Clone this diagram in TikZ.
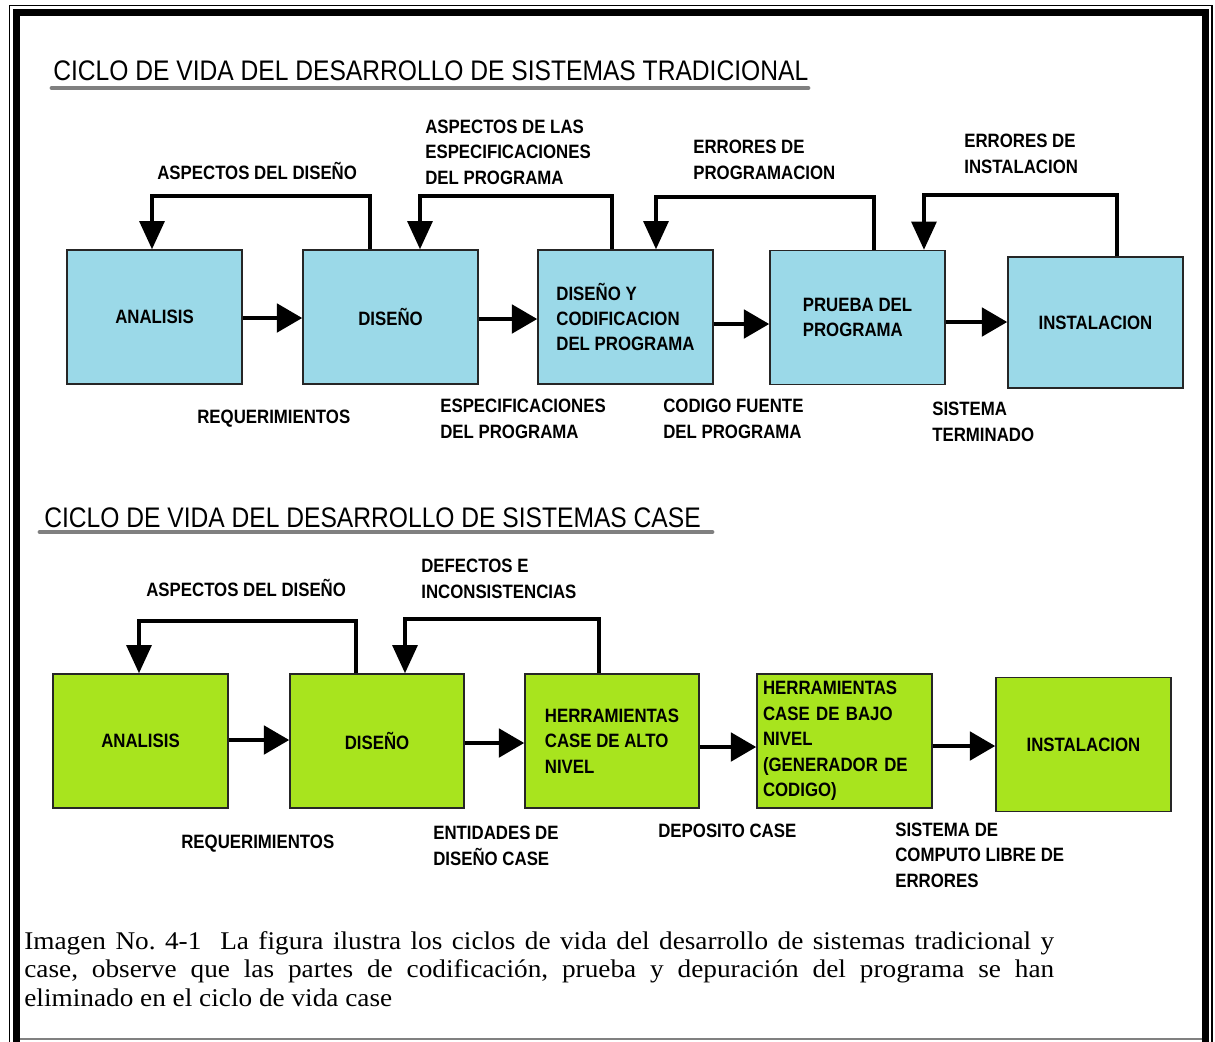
\documentclass[tikz,border=0pt]{standalone}
\usepackage{fontspec}
\usetikzlibrary{arrows.meta}
\newfontfamily\etiq[FakeStretch=0.87]{Liberation Sans}
\newfontfamily\pie[FakeStretch=1.07]{Liberation Serif}
\definecolor{azulcaja}{RGB}{155,217,232}
\definecolor{verdecaja}{RGB}{168,228,30}
\tikzset{
  caja/.style={draw=black!85, line width=0.8pt, minimum width=3.5cm, minimum height=2.68cm,
    inner sep=0pt, align=left, font=\etiq\bfseries\fontsize{11}{14.5}\selectfont},
  azul/.style={caja, fill=azulcaja},
  verde/.style={caja, fill=verdecaja},
  etiqueta/.style={anchor=base west, inner sep=0pt, align=left,
    font=\etiq\bfseries\fontsize{11}{14.5}\selectfont},
  titulo/.style={anchor=base west, inner sep=0pt, font=\etiq\fontsize{16.1}{18}\selectfont},
  flecha/.style={line width=2.8pt, -{Triangle[length=14.5pt,width=16pt]}},
  retro/.style={line width=2.3pt, -{Triangle[length=16pt,width=14pt]}},
  subraya/.style={line width=2.8pt, gray, line cap=round}
}
\begin{document}
\begin{tikzpicture}[x=0.02cm,y=-0.02cm]
    \useasboundingbox (0,0) rectangle (1215,1042);
    \fill[white] (0,0) rectangle (1215,1042);

    % marco
    \draw[line width=0.8pt] (9.5,5.5) rectangle (1212,1060);
    \draw[line width=4pt] (16.5,12.5) rectangle (1205.5,1070);
    \draw[line width=0.8pt, gray] (20,1039) -- (1202,1039);

    % tradicional
    \node[titulo] (tit1) at (53,80) {CICLO DE VIDA DEL DESARROLLO DE SISTEMAS TRADICIONAL};
    \draw[subraya] (52,88) -- (808,88);

    \node[azul] (ana1) at (154.5,317) {ANALISIS};
    \node[azul] (dis1) at (390.5,317) {DISEÑO};
    \node[azul] (cod1) at (625.5,317) {DISEÑO Y\\CODIFICACION\\DEL PROGRAMA};
    \node[azul] (pru1) at (857.5,317.5) {PRUEBA DEL\\PROGRAMA};
    \node[azul, minimum height=2.62cm] (ins1) at (1095.5,322.5) {INSTALACION};

    \draw[flecha] ([yshift=-0.02cm]ana1.east) -- ([yshift=-0.02cm]ana1.east -| dis1.west);
    \draw[flecha] ([yshift=-0.04cm]dis1.east) -- ([yshift=-0.04cm]dis1.east -| cod1.west);
    \draw[flecha] ([yshift=-0.14cm]cod1.east) -- ([yshift=-0.14cm]cod1.east -| pru1.west);
    \draw[flecha] ([yshift=-0.09cm]pru1.east) -- ([yshift=-0.09cm]pru1.east -| ins1.west);

    \draw[retro] ([xshift=-0.41cm]dis1.north) -- ++(0,-53) -| ([xshift=-0.05cm]ana1.north);
    \draw[retro] ([xshift=-0.27cm]cod1.north) -- ++(0,-53) -| ([xshift=0.59cm]dis1.north);
    \draw[retro] ([xshift=0.33cm]pru1.north) -- ++(0,-53) -| ([xshift=0.61cm]cod1.north);
    \draw[retro] ([xshift=0.43cm]ins1.north) -- ++(0,-61) -| ([xshift=1.33cm]pru1.north);

    \node[etiqueta] (asp1) at (157,179) {ASPECTOS DEL DISEÑO};
    \node[etiqueta] (asp2) at (425,184) {ASPECTOS DE LAS\\ESPECIFICACIONES\\DEL PROGRAMA};
    \node[etiqueta] (err1) at (693,179) {ERRORES DE\\PROGRAMACION};
    \node[etiqueta] (err2) at (964,173) {ERRORES DE\\INSTALACION};
    \node[etiqueta] (req1) at (197,423) {REQUERIMIENTOS};
    \node[etiqueta] (esp1) at (440,438) {ESPECIFICACIONES\\DEL PROGRAMA};
    \node[etiqueta] (cdf1) at (663,438) {CODIGO FUENTE\\DEL PROGRAMA};
    \node[etiqueta] (sis1) at (932,441) {SISTEMA\\TERMINADO};

    % case
    \node[titulo] (tit2) at (44,527) {CICLO DE VIDA DEL DESARROLLO DE SISTEMAS CASE};
    \draw[subraya] (40,532) -- (712,532);

    \node[verde] (ana2) at (140.5,741) {ANALISIS};
    \node[verde, minimum width=3.48cm] (dis2) at (377,741) {DISEÑO};
    \node[verde, minimum width=3.48cm] (alto2) at (612,741) {HERRAMIENTAS\\CASE DE ALTO\\NIVEL};
    \node[verde, text width=3.26cm] (bajo2) at (844.5,741) {HERRAMIENTAS\\CASE DE BAJO\\NIVEL\\(GENERADOR DE\\CODIGO)};
    \node[verde] (ins2) at (1083.5,744.5) {INSTALACION};

    \draw[flecha] ([yshift=0.02cm]ana2.east) -- ([yshift=0.02cm]ana2.east -| dis2.west);
    \draw[flecha] ([yshift=-0.04cm]dis2.east) -- ([yshift=-0.04cm]dis2.east -| alto2.west);
    \draw[flecha] ([yshift=-0.12cm]alto2.east) -- ([yshift=-0.12cm]alto2.east -| bajo2.west);
    \draw[flecha] ([yshift=-0.1cm]bajo2.east) -- ([yshift=-0.1cm]bajo2.east -| ins2.west);

    \draw[retro] ([xshift=-0.42cm]dis2.north) -- ++(0,-52) -| ([xshift=-0.03cm]ana2.north);
    \draw[retro] ([xshift=-0.26cm]alto2.north) -- ++(0,-54) -| ([xshift=0.56cm]dis2.north);

    \node[etiqueta] (asp3) at (146,596) {ASPECTOS DEL DISEÑO};
    \node[etiqueta] (def3) at (421,598) {DEFECTOS E\\INCONSISTENCIAS};
    \node[etiqueta] (req3) at (181,848) {REQUERIMIENTOS};
    \node[etiqueta] (ent3) at (433,865) {ENTIDADES DE\\DISEÑO CASE};
    \node[etiqueta] (dep3) at (658,837) {DEPOSITO CASE};
    \node[etiqueta] (sis3) at (895,887) {SISTEMA DE\\COMPUTO LIBRE DE\\ERRORES};

    % pie de figura
    \node[anchor=north west, inner sep=0pt, text width=20.6cm, align=justify,
      font=\pie\fontsize{14.5}{16.2}\selectfont\frenchspacing] (pie) at (24,931)
      {Imagen No. 4-1\ \ La figura ilustra los ciclos de vida del desarrollo de sistemas tradicional y\linebreak
       case, observe que las partes de codificación, prueba y depuración del programa se han\linebreak
       eliminado en el ciclo de vida case};
\end{tikzpicture}
\end{document}
